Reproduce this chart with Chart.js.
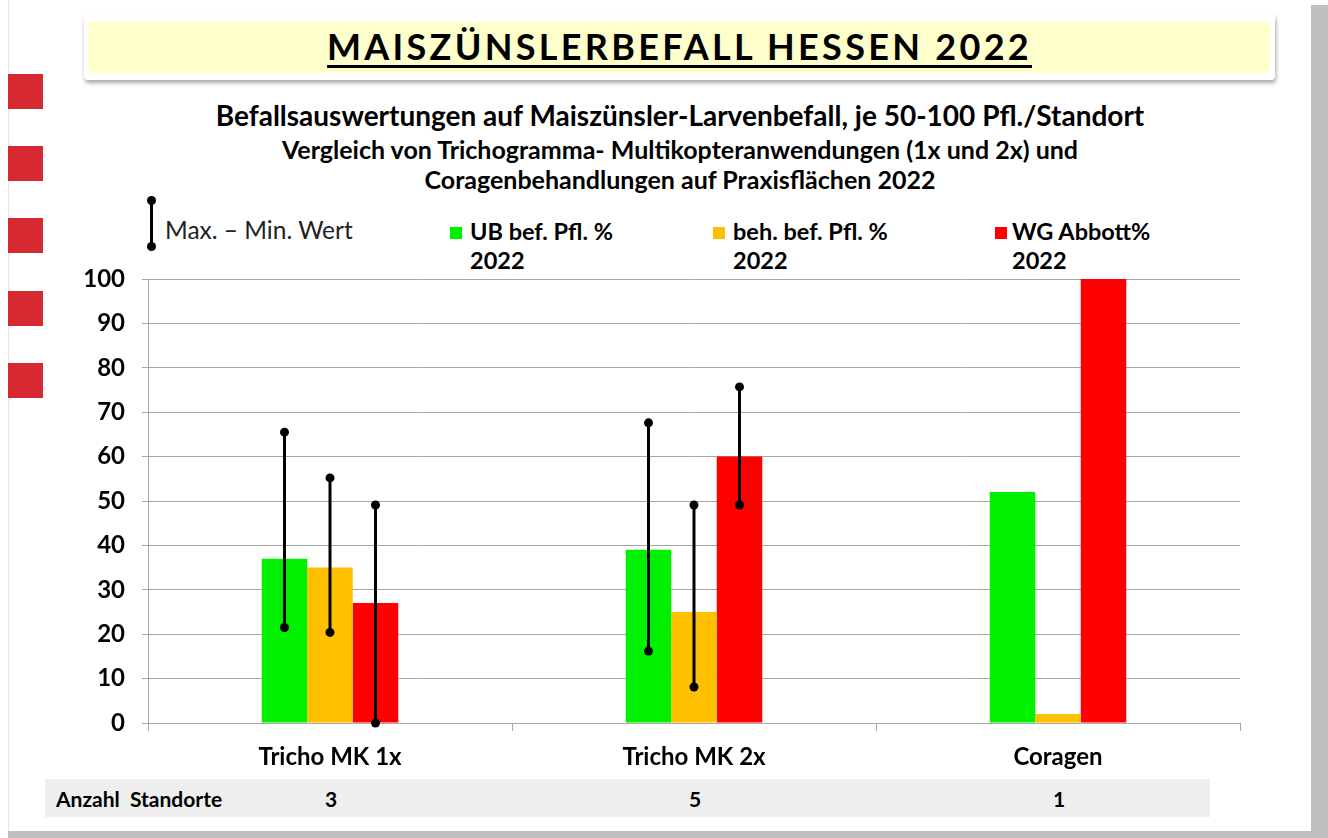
<!DOCTYPE html>
<html>
<head>
<meta charset="utf-8">
<script src="https://cdn.jsdelivr.net/npm/chart.js@4.4.0/dist/chart.umd.min.js"></script>
<style>
  body { margin: 0; width: 1328px; height: 838px; background: #fff; position: relative; overflow: hidden; font-family: Lato, sans-serif; }
  .frame-r { position: absolute; left: 1311px; top: 5px; width: 17px; height: 833px; background: #bfbfbf; }
  .frame-b { position: absolute; left: 8px; top: 831px; width: 1320px; height: 7px; background: #bfbfbf; }
  .frame-l { position: absolute; left: 8px; top: 0; width: 1px; height: 831px; background: #e4e4e4; }
  .sq { position: absolute; left: 8px; width: 35px; height: 35px; background: #d62932; }
  .banner { position: absolute; left: 84px; top: 14px; width: 1191px; height: 66px; background: #fff; border-radius: 4px; box-shadow: 1px 3px 4px rgba(0,0,0,0.35); }
  .banner-in { position: absolute; left: 4px; top: 8px; right: 5px; bottom: 7px; background: #ffffcc; }
  .banner h1 { margin: 0; position: absolute; left: 0; right: 0; top: 10px; text-align: center; font: 700 36px Lato, sans-serif; letter-spacing: 3.3px; text-decoration: underline; text-decoration-thickness: 3px; text-underline-offset: 5px; color: #000; }
  .sub { position: absolute; left: 0; width: 1360px; text-align: center; font-weight: 700; color: #000; white-space: nowrap; }
  .leg { position: absolute; font: 700 23.5px Lato, sans-serif; line-height: 29px; color: #000; white-space: nowrap; }
  .box { position: absolute; width: 12px; height: 12px; }
  .ibar { position: absolute; left: 150px; top: 200px; width: 3px; height: 47px; background: #000; }
  .dot { position: absolute; width: 9px; height: 9px; border-radius: 50%; background: #000; left: -3px; }
  .table { position: absolute; left: 45px; top: 779px; width: 1165px; height: 38px; background: #eeeeee; font: 700 21px Lato, sans-serif; }
  .table span { position: absolute; top: 7px; }
</style>
</head>
<body>
<div class="frame-l"></div>
<div class="frame-r"></div>
<div class="frame-b"></div>
<div class="sq" style="top:74px"></div>
<div class="sq" style="top:146px"></div>
<div class="sq" style="top:218px"></div>
<div class="sq" style="top:291px"></div>
<div class="sq" style="top:363px"></div>

<div class="banner"><div class="banner-in"></div><h1>MAISZÜNSLERBEFALL HESSEN 2022</h1></div>

<div class="sub" style="top:98px;font-size:28px">Befallsauswertungen auf Maiszünsler-Larvenbefall, je 50-100 Pfl./Standort</div>
<div class="sub" style="top:134px;font-size:25px">Vergleich von Trichogramma- Multikopteranwendungen (1x und 2x) und</div>
<div class="sub" style="top:164px;font-size:25px">Coragenbehandlungen auf Praxisflächen 2022</div>

<div class="ibar"><div class="dot" style="top:-4px"></div><div class="dot" style="bottom:-4px"></div></div>
<div class="leg" style="left:165px;top:215px;font-weight:400;font-size:24.5px;color:#222">Max. – Min. Wert</div>
<div class="box" style="left:450px;top:227px;background:#00f000"></div>
<div class="leg" style="left:470px;top:217px">UB bef. Pfl. %<br>2022</div>
<div class="box" style="left:713px;top:227px;background:#ffc000"></div>
<div class="leg" style="left:733px;top:217px">beh. bef. Pfl. %<br>2022</div>
<div class="box" style="left:995px;top:227px;background:#ff0000"></div>
<div class="leg" style="left:1012px;top:217px">WG Abbott%<br>2022</div>

<div class="table" id="tbl"><span style="left:11px">Anzahl&nbsp; Standorte</span></div>

<canvas id="chart" width="1328" height="838" style="position:absolute;left:0;top:0"></canvas>

<script>
const categories = ['Tricho MK 1x', 'Tricho MK 2x', 'Coragen'];
const ubBef = [37, 39, 52];
const behBef = [35, 25, 2];
const wgAbbott = [27, 60, 100];
// Max - Min Werte (keine bei Coragen, nur 1 Standort)
const ubMin = [21.5, 16.2, null];
const ubMax = [65.5, 67.6, null];
const behMin = [20.4, 8.1, null];
const behMax = [55.2, 49.1, null];
const wgMin = [0, 49.1, null];
const wgMax = [49.1, 75.7, null];
const anzahlStandorte = [3, 5, 1];

const ranges = [[ubMin, ubMax], [behMin, behMax], [wgMin, wgMax]];

const minMaxPlugin = {
  id: 'minMax',
  afterDatasetsDraw(chart) {
    const ctx = chart.ctx;
    const y = chart.scales.y;
    ctx.save();
    ctx.strokeStyle = '#000';
    ctx.fillStyle = '#000';
    ctx.lineWidth = 3;
    ranges.forEach(([mins, maxs], di) => {
      const meta = chart.getDatasetMeta(di);
      meta.data.forEach((bar, i) => {
        if (mins[i] == null) return;
        const y1 = y.getPixelForValue(mins[i]);
        const y2 = y.getPixelForValue(maxs[i]);
        ctx.beginPath();
        ctx.moveTo(bar.x, y1);
        ctx.lineTo(bar.x, y2);
        ctx.stroke();
        [y1, y2].forEach((p) => {
          ctx.beginPath();
          ctx.arc(bar.x, p, 4.5, 0, Math.PI * 2);
          ctx.fill();
        });
      });
    });
    ctx.restore();
  },
};

const chart = new Chart(document.getElementById('chart'), {
  type: 'bar',
  data: {
    labels: categories,
    datasets: [
      { label: 'UB bef. Pfl. % 2022', data: ubBef, backgroundColor: '#00f000' },
      { label: 'beh. bef. Pfl. % 2022', data: behBef, backgroundColor: '#ffc000' },
      { label: 'WG Abbott% 2022', data: wgAbbott, backgroundColor: '#ff0000' },
    ],
  },
  options: {
    responsive: false,
    animation: false,
    categoryPercentage: 0.375,
    barPercentage: 1,
    layout: { padding: { left: 68, top: 279, right: 88, bottom: 55 } },
    plugins: { legend: { display: false }, tooltip: { enabled: false } },
    scales: {
      x: {
        afterFit: (s) => { s.height = 60; },
        grid: { offset: true, drawOnChartArea: false, tickLength: 8, color: '#a6a6a6' },
        border: { color: '#a6a6a6' },
        ticks: { color: '#000', padding: 12, font: { family: 'Lato', weight: 'bold', size: 24 } },
      },
      y: {
        min: 0,
        max: 100,
        afterFit: (s) => { s.width = 80; },
        grid: { tickLength: 6, color: '#a6a6a6' },
        border: { color: '#a6a6a6' },
        ticks: { stepSize: 10, color: '#000', padding: 17, font: { family: 'Lato', weight: 'bold', size: 24 } },
      },
    },
  },
  plugins: [minMaxPlugin],
});

// Anzahl Standorte unter die Kategorien setzen
const tbl = document.getElementById('tbl');
anzahlStandorte.forEach((n, i) => {
  const s = document.createElement('span');
  s.textContent = n;
  s.style.left = (chart.scales.x.getPixelForValue(i) - 45 - 5) + 'px';
  s.style.width = '10px';
  s.style.textAlign = 'center';
  tbl.appendChild(s);
});
</script>
</body>
</html>
